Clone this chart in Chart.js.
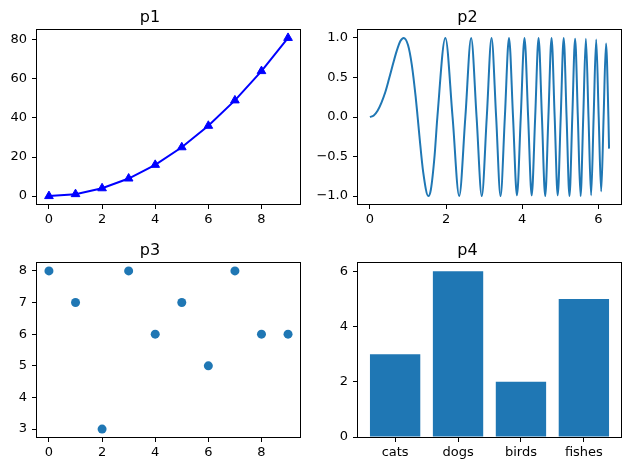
<!DOCTYPE html>
<html>
<head>
<meta charset="utf-8">
<script src="https://cdn.jsdelivr.net/npm/chart.js@4.4.1/dist/chart.umd.min.js"></script>
<style>
  html, body { margin: 0; padding: 0; background: #fff; }
  #wrap { position: relative; width: 629px; height: 470px; }
  canvas { position: absolute; }
</style>
</head>
<body>
<div id="wrap">
  <canvas id="c1" width="314" height="232" style="left:0;top:0"></canvas>
  <canvas id="c2" width="315" height="232" style="left:314px;top:0"></canvas>
  <canvas id="c3" width="314" height="238" style="left:0;top:232px"></canvas>
  <canvas id="c4" width="315" height="238" style="left:314px;top:232px"></canvas>
</div>
<script>
// p1: squares with triangle markers
const p1X = [0, 1, 2, 3, 4, 5, 6, 7, 8, 9];
const p1Y = [0, 1, 4, 9, 16, 25, 36, 49, 64, 81];
const p1XTicks = [0, 2, 4, 6, 8];
const p1YTicks = [0, 20, 40, 60, 80];

// p2: chirp-like wave (peaks, troughs and crossings)
const p2X = [0, 0.1, 0.2, 0.3, 0.4, 0.5, 0.6, 0.7, 0.8, 0.886, 1.0, 1.1, 1.2, 1.253,
  1.3, 1.4, 1.535, 1.6, 1.7, 1.772, 1.982, 2.171, 2.345,
  2.507, 2.659, 2.802, 2.939, 3.070, 3.195, 3.316, 3.432, 3.545, 3.654, 3.760, 3.863,
  3.963, 4.061, 4.157, 4.250, 4.342, 4.431, 4.519, 4.605, 4.689, 4.772, 4.854, 4.934,
  5.013, 5.091, 5.167, 5.243, 5.317, 5.391, 5.463, 5.534, 5.605, 5.674, 5.743, 5.811,
  5.878, 5.945, 6.011, 6.076, 6.140, 6.203, 6.266, 6.283];
const p2Y = [0, 0.02, 0.08, 0.18, 0.31, 0.48, 0.66, 0.83, 0.96, 1, 0.91, 0.66, 0.26, 0,
  -0.24, -0.70, -1, -0.92, -0.48, 0, 1, 0, -1,
  0, 1, 0, -1, 0, 1, 0, -1, 0, 1, 0, -0.99,
  0, 1, 0, -0.99, 0, 1, 0, -1, 0, 1, 0, -0.99,
  0, 1, 0, -1, 0, 0.99, 0, -1, 0, 0.99, 0, -0.99,
  0, 0.98, 0, -0.94, 0, 0.93, 0, -0.40];
const p2XTicks = [0, 2, 4, 6];
const p2YTicks = [-1, -0.5, 0, 0.5, 1];

// p3: scatter
const p3X = [0, 1, 2, 3, 4, 5, 6, 7, 8, 9];
const p3Y = [8, 7, 3, 8, 6, 7, 5, 8, 6, 6];
const p3XTicks = [0, 2, 4, 6, 8];
const p3YTicks = [3, 4, 5, 6, 7, 8];

// p4: bars
const p4Labels = ['cats', 'dogs', 'birds', 'fishes'];
const p4Values = [3, 6, 2, 5];
const p4YTicks = [0, 2, 4, 6];

const FONT = 'DejaVu Sans';
const MPL_BLUE = '#1f77b4';

const frame = {
  id: 'frame',
  afterDatasetsDraw(chart) {
    const a = chart.chartArea;
    const ctx = chart.ctx;
    ctx.save();
    ctx.strokeStyle = '#000';
    ctx.lineWidth = 1;
    ctx.strokeRect(a.left - 0.5, a.top - 0.5, a.right - a.left + 1, a.bottom - a.top + 1);
    ctx.restore();
  }
};

function axis(pos, min, max, ticks, size, fmt) {
  return {
    type: 'linear',
    position: pos,
    min: min,
    max: max,
    offset: false,
    afterBuildTicks: (s) => { s.ticks = ticks.map(v => ({ value: v })); },
    afterFit: (s) => {
      if (pos === 'left') s.width = size;
      else s.height = size;
    },
    grid: {
      drawOnChartArea: false,
      drawTicks: true,
      tickLength: 5,
      tickWidth: 1,
      tickColor: '#000',
      color: '#000',
      offset: false
    },
    border: { display: false },
    ticks: {
      color: '#000',
      padding: pos === 'left' ? 5 : 3,
      autoSkip: false,
      maxRotation: 0,
      font: { family: FONT, size: 13 },
      callback: fmt || ((v) => String(v))
    }
  };
}

function titleOpts(text, top, bottom) {
  return {
    display: true,
    text: text,
    color: '#000',
    font: { family: FONT, size: 16, weight: 'normal' },
    padding: { top: top, bottom: bottom }
  };
}

function baseOptions(title, tTop, tBottom, padRight) {
  return {
    responsive: false,
    animation: false,
    layout: { padding: { left: 0, top: 0, right: padRight, bottom: 0 } },
    plugins: {
      legend: { display: false },
      tooltip: { enabled: false },
      title: titleOpts(title, tTop, tBottom)
    }
  };
}

const fmt1 = (v) => (v < 0 ? '\u2212' : '') + Math.abs(v).toFixed(1);

function toPoints(xs, ys) {
  return xs.map((x, i) => ({ x: x, y: ys[i] }));
}

// p1
const o1 = baseOptions('p1', 8.4, 2.4, 14);
o1.scales = {
  x: axis('bottom', -0.45, 9.45, p1XTicks, 28),
  y: axis('left', -4.05, 85.05, p1YTicks, 37)
};
new Chart(document.getElementById('c1'), {
  type: 'scatter',
  data: {
    datasets: [{
      data: toPoints(p1X, p1Y),
      showLine: true,
      borderColor: 'blue',
      backgroundColor: 'blue',
      borderWidth: 2,
      pointStyle: 'triangle',
      pointRadius: 5,
      pointBorderWidth: 1,
      pointBorderColor: 'blue',
      pointBackgroundColor: 'blue'
    }]
  },
  options: o1,
  plugins: [frame]
});

// p2
const o2 = baseOptions('p2', 8.4, 2.4, 8);
o2.scales = {
  x: axis('bottom', -0.314, 6.597, p2XTicks, 28),
  y: axis('left', -1.1, 1.1, p2YTicks, 44, fmt1)
};
new Chart(document.getElementById('c2'), {
  type: 'scatter',
  data: {
    datasets: [{
      data: toPoints(p2X, p2Y),
      showLine: true,
      borderColor: MPL_BLUE,
      borderWidth: 2,
      pointRadius: 0,
      cubicInterpolationMode: 'monotone'
    }]
  },
  options: o2,
  plugins: [frame]
});

// p3
const o3 = baseOptions('p3', 9, 2.8, 14);
o3.scales = {
  x: axis('bottom', -0.45, 9.45, p3XTicks, 33),
  y: axis('left', 2.75, 8.25, p3YTicks, 37)
};
new Chart(document.getElementById('c3'), {
  type: 'scatter',
  data: {
    datasets: [{
      data: toPoints(p3X, p3Y),
      backgroundColor: MPL_BLUE,
      borderColor: MPL_BLUE,
      pointRadius: 4.5,
      pointBorderWidth: 0
    }]
  },
  options: o3,
  plugins: [frame]
});

// p4
const o4 = baseOptions('p4', 9, 2.8, 8);
o4.scales = {
  x: axis('bottom', -0.59, 3.59, p4Labels.map((_, i) => i), 33, (v) => p4Labels[v]),
  y: axis('left', 0, 6.3, p4YTicks, 44)
};
new Chart(document.getElementById('c4'), {
  type: 'bar',
  data: {
    datasets: [{
      data: toPoints(p4Labels.map((_, i) => i), p4Values),
      backgroundColor: MPL_BLUE,
      borderWidth: 0,
      categoryPercentage: 1,
      barPercentage: 0.8
    }]
  },
  options: o4,
  plugins: [frame]
});
</script>
</body>
</html>
